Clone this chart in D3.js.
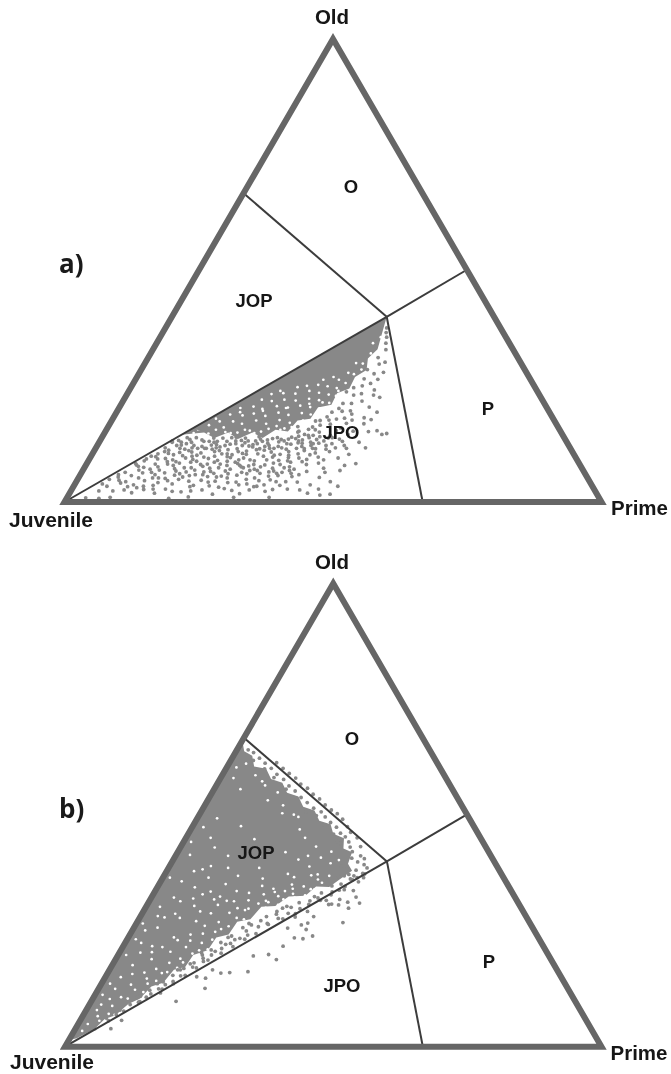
<!DOCTYPE html>
<html><head><meta charset="utf-8">
<script src="https://cdn.jsdelivr.net/npm/d3@7"></script>
<style>html,body{margin:0;background:#fff}svg{display:block;filter:blur(0.25px)}</style></head>
<body><svg id="c" width="671" height="1074"></svg>
<script>
// all compositions below are [prime %, old %]; juvenile % is the remainder
const vertexNames = ["Juvenile","Prime","Old"];
const regionLabels = ["O","JOP","JPO","P"];
const regionBoundaries = [[[0,0],[40,40]],[[40,40],[0,66.7]],[[40,40],[49.7,50]],[[40,40],[66.7,0]]];

const denseA = [[40,40],[41.8,33],[41,31],[42,28.5],[40.6,27],[40.8,24.5],[39,23.5],[39.2,21],[37,20.4],[36.8,18],[34.6,17.6],[34,15.2],[31.5,15.6],[30,13.8],[27.5,15],[25.5,13.6],[23,15],[21,13.8],[18.5,15],[14.5,14.5]];
const gapsA = [
17.1,15.6,19.4,14.8,21.6,16.1,23.5,14.9,25.8,15.6,27.9,14.9,30.1,15.8,32.4,15.6,34.2,16.2,18.6,16.6,20.2,17.4,22.7,17.4,24.6,16.9,26.9,17.6,29.1,16.9,31.2,17.7,33.4,17.1,35.6,17.6,36.4,18.9,34.6,19.2,32.3,18.8,30.2,19.3,28.1,18.6,25.7,19.1,23.8,18.7,21.4,18.9,
22.6,20.3,24.9,20.6,26.8,20.1,29.2,20.7,31.1,20.3,33.5,20.8,35.5,20.5,37.4,20.2,38.6,21.4,36.4,22,34.4,22.3,32.1,21.9,29.9,22.1,27.7,21.8,25.7,22.1,26.9,23.3,29,23.5,31.3,23.4,33.6,24,35.6,23.6,37.6,23.2,39.1,22.9,38.4,24.6,36.5,25,34.6,25.3,32.6,25.1,
39.5,25.7,37.9,26.4,40.1,27.6,38.9,27.9,36.6,27,40.6,29.9,39.3,30,41,32.1,40.3,34.3,41.1,35.6,35,26.4,31,24.8,28.2,24,
16.6,14.9,20.4,15.6,22.4,15.1,24.7,15,26.8,15.4,29,15.2,31.3,16.4,33,15.9,35,16.7,37.7,19.8,19.2,18,23,19.4,27.1,19.7,31.4,20.4,35,21.2,39,24,41,28.6,37.3,21.5
];
const pointsA = [
3.5,0.9,6,0.8,8,1,19,0.8,22.5,1.1,31,1,37.6,1,5.2,2.4,9.8,2.6,11.5,2,13.4,2.7,15.8,1.9,17.4,2.8,20.6,2.2,24.3,2.6,26.7,1.7,29.9,2.5,31.7,1.8,36.2,2.3,37.4,2.7,44.3,1.9,46.8,1.5,48.6,1.7,42.5,2.6,45.9,2.8,
6.2,3.4,8.4,4.1,10.1,3.3,12.6,4.6,14.7,3.6,16.2,5.1,18.1,3.9,19.3,5.4,21.7,3.3,23.1,4.7,25.2,3.5,26.4,5.6,28.3,4.2,30.6,3.7,32.8,5.2,34.1,3.4,35.9,4.8,38.3,3.6,39.6,5.5,41.2,4.3,43.9,3.7,47.3,4.4,49.2,3.4,7.3,5.4,9.6,5.7,11.2,5.2,13.9,5.9,15.3,4.2,17.6,5.8,20.4,5.7,22.8,5.9,24.6,4.3,27.1,3.2,29.2,5.8,31.4,4.9,33.6,3.3,36.9,5.7,40.7,5.9,44.8,5.3,
8.1,6.4,9.9,7.7,11.4,6.3,12.8,8.2,14.2,6.9,15.6,9.1,16.9,7.2,18.4,6.1,19.2,8.6,20.8,6.9,22.1,9.4,23.4,7.3,24.7,6.2,25.9,8.8,27.3,7.1,28.6,9.5,29.8,6.4,31.2,8.1,32.5,6.8,33.9,9.7,35.1,7.3,36.4,6.2,37.8,8.6,39.2,7.1,40.5,9.2,41.8,6.6,43.1,8.4,44.6,7.3,46.2,9.5,47.9,6.8,50.1,8.3,10.6,9.3,12.1,9.8,13.6,7.6,15.1,8.2,17.8,9.5,19.9,7.4,21.3,8.1,23,9.9,24.9,8.2,26.6,6.7,27.9,9.1,30.4,7.8,32.1,9.9,34.7,8.4,36.9,9.6,38.5,6.8,39.9,8.7,42.4,9.7,45.3,6.4,48.2,7.9,30.9,6.1,22.7,6.5,17.2,8.4,25.4,9.8,35.6,6.7,
12.2,10.4,13.8,11.2,15.2,10.2,16.4,12.6,17.6,11.1,18.9,13.4,20.1,10.6,21.2,12.3,22.5,10.9,23.7,13.1,24.8,11.3,26.1,10.2,27.2,12.8,28.4,11,29.7,13.6,30.8,10.4,32,12.2,33.1,10.8,34.3,13.2,35.6,11.4,36.7,10.1,37.9,12.7,39.1,11.1,40.2,13.5,41.4,10.6,42.6,12.2,43.9,10.9,45.2,13.1,46.7,11.6,48.4,12.9,50.2,11.7,51.8,14.6,14.6,13.3,15.9,13.9,17.2,12.9,18.3,10.8,19.6,12,20.9,13.8,22.1,12.4,23.3,11.1,24.2,13.9,25.6,12.6,26.8,13.8,27.9,10.5,29.1,11.9,30.3,13.1,31.6,11.2,32.7,13.9,33.8,12,35,10.3,36.2,13.7,37.4,11.6,38.6,13.9,39.8,12.2,41,11.5,42.2,13.8,43.5,12.6,44.6,11.7,46,12.2,47.8,10.3,19,11.6,25.1,10.4,28.9,12.4,34.6,11.7,16.7,11.4,21.8,11.4,31.1,13.4,40.6,10.2,
35.3,16.3,36.5,14.2,37.6,15.7,38.8,17.6,39.9,15.1,41.1,16.8,42.3,14.4,43.4,16,44.7,17.7,46.1,15.3,47.3,16.9,49,15.2,50.5,15.4,52.6,14.8,36,15.3,38.2,14.4,39.3,16.6,40.5,14.1,41.7,17.9,42.9,15.4,44,17,45.5,14.6,46.7,18.2,48.2,17.8,38.1,16.2,43.1,18.1,
40.1,19.4,41.2,21.3,42.3,23.1,43.4,19.7,44.5,21.8,45.6,24.2,46.5,20.5,47.4,22.6,48.5,19.4,40.6,23.8,42.9,25.1,44,19,46,23.1,45.1,26.5,43.8,27.7,41.5,24.7,
42.1,28.6,43.7,29.8,45.4,28,44.6,30.2,42.8,31.2,43.4,32.9,42.7,34.3,42.2,35.6,41.6,36.6,41.2,37.6,42.5,26.6,
17.1,15.8,13.6,12.9,11.2,9.9,9.4,8,7.1,5.9,5.1,3.9,14.8,12.2,12.9,11.7,10.4,8.9,
9.1,8.3,11,7.5,13,6.4,14.8,8.7,16.3,7.9,18.6,7.4,20.2,8.8,21.9,7.7,24,9,26.3,7.9,28.1,8.3,29.6,7.4,31.8,7.1,33.3,8,35.4,9,37.2,7.4,38.9,9.5,41,8.1,43.7,9.1,
12.7,9.3,14.1,10.5,15.7,11.6,17,10,18,12.2,19.6,10.1,20.6,11.6,21.9,13.1,23,11.9,24.1,10.4,25.3,13.2,26.4,11.5,27.6,13.2,28.7,10.3,29.6,12.6,30.6,11.5,31.9,13.7,33.2,11.6,34,10.1,35.1,12.6,36.3,10.9,37.1,12.8,38.3,10.4,39.4,12.9,40.4,11.6,41.7,13.2,43,11.4,44.4,13.6,
13.5,13.2,15.3,12.9,17.6,13.9,20.4,13.1,22.6,13.8,25,14,27,12.2,29.2,14.1,31.5,12.7,33.4,13,35.3,14,37,13.2,38.2,12,39.1,14.4,41,12.7,42.9,13.9,
5.9,4.9,7.8,4.7,9.2,4.4,11,3.7,13,3.4,14.9,5.2,16.9,4.6,18.8,4.9,20.9,4.5,22.2,3.6,23.9,5.5,25.8,4.5,27.7,5.2,29.8,4.3,32,3.9,33.9,4.6,35.3,3.7,37.2,4.4,39,4.4,
37.4,14.6,38.9,15.6,40.4,17.7,41.9,19.6,42.8,21.3,43.6,23.4,44.2,25.6,39.7,18.4,41,20.2,38,17.5,35.9,15.1,
16.1,10.7,18.8,9.9,21.1,9.7,23.6,8.6,26.1,9.6,28.7,7.9,30.9,8.9,33.1,9.1,36.1,8.1,38.1,7.6,14.1,9.4,16.4,8.7,19.3,9.2,22.5,8.2,25,7.4,27.5,8.6,30,9.1,32.7,7.6,34.8,6.5,37.1,8.9,
13.2,10.9,15.6,12.3,17.9,11.7,20.3,11.6,22.4,11.7,24.6,12.5,26.9,10.9,29,13.2,31.3,12,33.6,13.5,35.9,12.5,38.9,11.5,16.6,13.5,19.4,13.1,21.4,12.9,23.8,12.2,26.3,13.3,28.3,12.1,30.1,11.3,32.4,11.6,34.9,13.6,37.6,13.4,40,12.6,
10.4,6.9,12.4,7.1,13.8,5.2,15.5,6.3,17.4,6.7,19.4,6.5,21.4,5.9,23.9,6.6,25.6,5.4,27.4,6.1,29.1,7.6,31.1,6.8,33.3,6.2,35.2,5.6,37.3,6.4,39.1,6.2,
7.8,2.4,11.9,3.1,15.1,2.8,18.9,2.3,22.3,2.4,28.3,2.9,33.1,2.6,40.1,2.8
];

const denseB = [[0.2,65.8],[1.5,63.8],[3.5,62.8],[5,60.5],[7.5,60],[9.5,57.8],[12,57],[14,54.8],[16.5,54],[18.5,51.8],[21,51],[23,48.8],[25.5,48],[27,46],[29.5,45],[30.5,42.8],[32.5,42],[33,39.5],[34.5,38],[33.2,36.2],[32,34.5],[29.5,34.6],[28.5,32.6],[25.5,32.4],[24,30.4],[21.5,30.2],[20.8,27.5],[18.6,27],[18.4,24.2],[16.4,23.6],[16.2,20.8],[14,19.8],[13.8,17.2],[12,16.6],[11.4,13.8],[9.6,13],[8.8,10.4],[7.2,9.2],[6,6.8],[4.4,6],[3.6,3.8],[1.3,1.8],[0.2,1.5]];
const gapsB = [
2.4,58,4.9,55.6,8.1,57.3,11.2,53.2,14.6,52.1,18.7,49.6,3.7,49.3,9,47.6,12.9,44.8,6.4,43,2.6,41.4,1.3,36.5,3.9,35.7,7.7,39,11.1,38.6,15.7,41.2,20.1,42,23.3,40.4,26.1,38.9,28.5,37.2,30.2,35.4,27.2,34.6,24.4,36.6,21.8,34.1,18.7,36.3,15.2,33.6,12.4,35.1,9.2,32.9,5.8,31.4,2.6,30.2,1.2,26.6,4.4,25.7,7.5,27.8,10.6,29.2,13.2,30.6,16.2,28.9,18.4,31.6,20.6,30.9,23.5,32.5,26,33,28.8,34,30.8,36.9,
29.5,33.9,24.8,31.8,22.4,30,19.6,27.5,17.5,26,15.6,24.8,13,26.1,11.3,24.2,8.5,23.6,5.4,21.7,3,22.4,1.5,19.8,3.8,17.6,6.7,18.9,9.4,20.5,11.8,21.5,14.3,22.4,16.1,21,14.8,18.9,12.4,17,10.1,15.9,7.9,14.7,5.6,13.4,3.1,12.5,1.6,13.6,2.2,9.1,4.4,8.8,6.5,10.4,8.7,11.8,10.7,13.2,12.9,15.2,3.6,5.6,5.8,6.9,1.8,4.9,13.7,20.1,17.1,23.3,19.9,25.6,21.5,27.9,17.2,29.9,7,34.4,3.2,28.2,11.9,31.8,25.3,29.7,22.9,37.3,5.1,37.9,
28.6,42.1,29.7,39.6,30.9,40.3,27.3,40.8,25.2,43.2,24.7,41.2,22.2,45.1,20.3,46.9,17.6,50.1,15.3,50.4,12.2,54.9,9.1,56.4,6.2,58.6,3.2,61.1,1.8,60.3,
1.4,44.2,2.1,47.4,4.6,45.1,6.5,38.3,8.5,36.5,9.8,41.2,13.8,36.9,16.9,38.6,19.4,34.7,22.4,33.4,24.8,35,27.4,37,29.1,36.1,25.4,34.1,20.6,32.9,17.7,33.2,14.4,31.5,12.8,28.8,10.9,27.1,8.9,30.4,6.2,28.7,4.6,27.9,2.4,25.1,1.6,23.2,3.9,20.3,6,20.4,7.4,21.5,9.5,23,11.9,22.9,13.5,24.4,16.4,25.4,18.1,27.8,15.2,26.9,12,19,10.4,18.1,8.6,16.8,6.8,16,4.7,15.7,2.9,15,1.4,11.2,3.2,10.3,5.1,10.7,6.9,12.3,8.6,13.6,9.9,14.2,4.6,7.1,2.8,6.6,2,7.9,1.5,3.4,3,3.6,11,16.1,12.9,18.2,14.6,20.8,15.9,23.1,18.8,29.5,21.7,31.5,24.2,33.6,
4.2,32.2,7.9,32,10.4,33.5,12.7,32.4,15.8,31.4,19.3,29.8,22.3,31.2,24.4,30.6,26.7,32.2,28.4,32.7,30,33.5
];
const pointsB = [
39.4,31,37.9,29.9,38.4,26.8,35.3,31.8,33.8,30.7,32.3,28.1,31.9,26.7,30.9,26.3,32.3,25.3,34.2,23.9,32.7,23.3,31,23.5,29.8,21.7,28.7,25.6,30,18.8,28,19.9,25.3,19.6,26,16.2,22.7,16,21.1,15.9,19.2,16.6,18.8,14.8,19.8,12.6,17,15.1,15.8,9.8,6.6,3.9,7.7,5.7,12,11.6,
34.9,34.6,33.2,32.8,31.8,31.6,30.1,30.7,28.9,29.8,27.2,28.8,25.9,27.7,24.4,26.6,23.1,25.9,22,24.1,20.9,23.4,19.7,22.3,18.6,21.2,17.4,19.8,16.6,18.4,15.2,17.2,13.9,15.3,13.1,14.1,12,13.4,11.2,12.5,9.8,10.7,8.9,9.6,7.1,7.7,5.3,5.6,3.6,3.9,
29.9,31.5,28.1,31.1,26.2,30.3,24.9,29.2,23.5,28.1,21.6,26.3,20.3,25.7,19.1,23.9,17.8,22.5,16.8,20.9,15.7,19.8,14.4,17.9,13.2,16.6,33.1,33.4,31.2,33.2,36.2,36.5,35.4,36.9,37.2,37.3,37,38.6,36.9,35.6,35.1,36.2,
34.3,37.2,35.2,38.1,36.1,39.3,36.8,37.4,34.6,39.9,33.1,40.7,32.5,42.1,30.8,44.2,31.6,43.1,29.6,45.3,28.3,46.1,26.9,47.4,25.3,48.4,23.7,49.6,22.4,50.7,20.6,51.5,18.8,52.7,17.1,53.8,15.3,55.2,13.6,56.3,11.9,57.7,10.1,58.8,8.4,60.1,6.7,61.2,5.1,62.3,3.4,63.5,2.1,64.1,
35.6,36,33.9,35.1,37.4,36.5,32.7,36.7,31.9,39.1,29.4,43.9,28.6,44.3,27.1,45.9,24.4,47.8,21.9,49.9,19.5,50.7,16.4,53.6,13.4,55.6,9.9,58.1,7.2,60,4.2,61.8,32.4,34.7,34.2,33.8,30.3,32.4,25.6,29.9,21,26.6,18.6,23.6,15.3,20.3,12.7,16.6,10.4,13.6,8.2,10.6,6.3,7.9,4.6,6.2,2.9,3.7,
33.4,38.4,34.5,41.2,35.5,40.6,33.5,43.2,31.9,45.1,30.1,46.3,28.9,47.5,27.2,49.1,25.6,50.3,24.1,51.1,22.4,52.2,20.7,53.5,19,54.5,17.3,55.8,15.6,56.7,14,58,12.3,59,10.6,60.1,8.8,61.3,
33.6,36.9,35.1,33.9,36.9,33.7,38.1,32.3,37.1,31.2,35.7,30.6,34.3,30.8,32.9,31.6,31.1,32.1,28.6,28.7,27.1,30.1,25.1,28.6,22.9,27.2,21.3,25,20.1,23.1,18.9,22.1,17.7,20.6,16.2,19.1,15,18.1,13.7,16.9,12.4,15.4,11.3,14,9.7,12.2,8.6,10.9,7.6,9.1,6.1,6.9,
30.6,29.2,28.9,28,26.8,27.6,24.7,26.4,23.4,24.4,21.9,23.2,20.5,21.6,19,20.2,17.3,18.7,16,17,14.7,15.4,13.4,13.6,11.9,12.4,10.3,11.4,9.1,9.7
];

const svg = d3.select("#c");
const panels = [
  {tag:"a)", tagX:59, tagY:273, jx:64.5, px:601.5, jy:502, oy:39, pts:pointsA, dense:denseA, gaps:gapsA,
   oldPos:[332,17], juvPos:[9,526.5], primePos:[611,515], lab:[[351,186],[254,300],[341,432],[488,408]]},
  {tag:"b)", tagX:59, tagY:818, jx:65, px:601.5, jy:1046.7, oy:583.5, pts:pointsB, dense:denseB, gaps:gapsB,
   oldPos:[332,562], juvPos:[10,1069], primePos:[610.5,1060], lab:[[352,738],[256,852],[342,985],[489,961]]}
];
const pairs = f => d3.range(0, f.length, 2).map(i => [f[i], f[i+1]]);

panels.forEach(P => {
  const g = svg.append("g");
  const X = d3.scaleLinear([0,100],[P.jx,P.px]);
  const Y = d3.scaleLinear([0,100],[P.jy,P.oy]);
  const tx = d => X(d[0] + d[1]/2), ty = d => Y(d[1]);
  const line = d3.line().x(tx).y(ty);
  const grey = "#888";
  g.append("path").attr("d", line(P.dense)+"Z").attr("fill", grey);
  g.append("g").selectAll("circle").data(pairs(P.gaps)).join("circle")
    .attr("cx",tx).attr("cy",ty).attr("r",1.35).attr("fill","#fff");
  g.append("g").selectAll("circle").data(pairs(P.pts)).join("circle")
    .attr("cx",tx).attr("cy",ty).attr("r",1.9).attr("fill",grey);
  g.selectAll("path.b").data(regionBoundaries).join("path").attr("class","b")
    .attr("d",line).attr("fill","none").attr("stroke","#3c3c3c").attr("stroke-width",2);
  g.append("path").attr("d", line([[0,0],[100,0],[0,100]])+"Z")
    .attr("fill","none").attr("stroke","#666").attr("stroke-width",6).attr("stroke-linejoin","miter");
  const font = "'Liberation Sans',Arial,sans-serif";
  const txt = (s,x,y,a,fs,dy) => g.append("text").text(s).attr("x",x).attr("y",y).attr("dy",dy||0)
    .attr("text-anchor",a).attr("font-family",font).attr("font-weight",700).attr("font-size",fs).attr("fill","#161616");
  txt(vertexNames[2],P.oldPos[0],P.oldPos[1],"middle",20.5,"0.36em");
  txt(vertexNames[0],P.juvPos[0],P.juvPos[1],"start",21);
  txt(vertexNames[1],P.primePos[0],P.primePos[1],"start",20.5);
  regionLabels.forEach((s,i)=>{ txt(s,P.lab[i][0],P.lab[i][1],"middle",18.5,"0.36em"); });
  g.append("text").text(P.tag).attr("x",P.tagX).attr("y",P.tagY)
    .attr("font-family","'Open Sans',Verdana,sans-serif").attr("font-weight",700).attr("font-size",26).attr("fill","#1a1a1a");
});
</script></body></html>
